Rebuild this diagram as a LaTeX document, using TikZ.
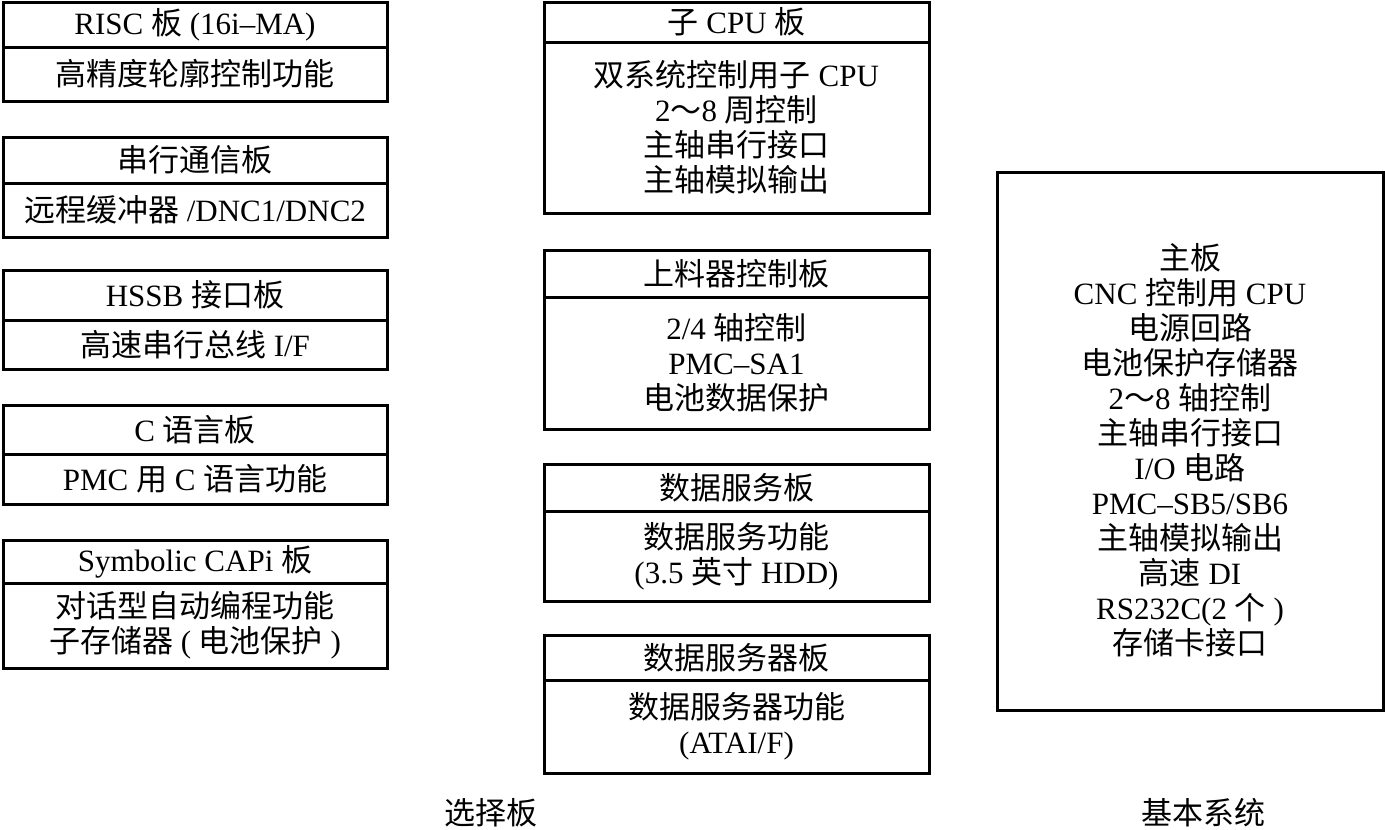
\documentclass[tikz,border=0pt]{standalone}
\usepackage{fontspec}
\setmainfont{Liberation Serif}
\newfontfamily\cjk{Noto Sans CJK SC}
\newcommand\zh[1]{{\cjk #1}}
\begin{document}
\begin{tikzpicture}[x=1pt,y=-1pt,
  cell/.style={draw, line width=3pt, inner sep=0pt, align=center,
    font=\fontsize{31}{35}\selectfont},
  lw/.style={cell, minimum width=384pt},
  mw/.style={cell, minimum width=385pt},
  lbl/.style={inner sep=0pt, align=center, font=\fontsize{31}{35}\selectfont}]
\useasboundingbox (0,0) rectangle (1385,830);
% left column
\node[lw, minimum height=45pt] (r1h) at (195,24.5) {RISC \zh{板} (16i–MA)};
\node[lw, minimum height=54pt] (r1b) at (195,74) {\zh{高精度轮廓控制功能}};
\node[lw, minimum height=46pt] (r2h) at (195,160) {\zh{串行通信板}};
\node[lw, minimum height=54pt] (r2b) at (195,210) {\zh{远程缓冲器} /DNC1/DNC2};
\node[lw, minimum height=50pt] (r3h) at (195,295) {HSSB \zh{接口板}};
\node[lw, minimum height=49pt] (r3b) at (195,344.5) {\zh{高速串行总线} I/F};
\node[lw, minimum height=49pt] (r4h) at (195,429.5) {C \zh{语言板}};
\node[lw, minimum height=50pt] (r4b) at (195,479) {PMC \zh{用} C \zh{语言功能}};
\node[lw, minimum height=43pt] (r5h) at (195,561.5) {Symbolic CAPi \zh{板}};
\node[lw, minimum height=85pt] (r5b) at (195,625.5) {\zh{对话型自动编程功能}\\\zh{子存储器} ( \zh{电池保护} )};
% middle column
\node[mw, minimum height=40pt] (m1h) at (736.5,22) {\zh{子} CPU \zh{板}};
\node[mw, minimum height=171pt] (m1b) at (736.5,127.5) {\zh{双系统控制用子} CPU\\2\zh{～}8 \zh{周控制}\\\zh{主轴串行接口}\\\zh{主轴模拟输出}};
\node[mw, minimum height=47pt] (m2h) at (736.5,273.5) {\zh{上料器控制板}};
\node[mw, minimum height=132pt] (m2b) at (736.5,363) {2/4 \zh{轴控制}\\PMC–SA1\\\zh{电池数据保护}};
\node[mw, minimum height=47pt] (m3h) at (736.5,487.5) {\zh{数据服务板}};
\node[mw, minimum height=90pt] (m3b) at (736.5,556) {\zh{数据服务功能}\\(3.5 \zh{英寸} HDD)};
\node[mw, minimum height=45pt] (m4h) at (736.5,657.5) {\zh{数据服务器板}};
\node[mw, minimum height=93pt] (m4b) at (736.5,726.5) {\zh{数据服务器功能}\\(ATAI/F)};
% right box
\node[cell, minimum width=386pt, minimum height=538pt] (main) at (1190,441) {};
\node[lbl] (maintext) at (1190,450)
  {\zh{主板}\\CNC \zh{控制用} CPU\\\zh{电源回路}\\\zh{电池保护存储器}\\2\zh{～}8 \zh{轴控制}\\\zh{主轴串行接口}\\I/O \zh{电路}\\PMC–SB5/SB6\\\zh{主轴模拟输出}\\\zh{高速} DI\\RS232C(2 \zh{个} )\\\zh{存储卡接口}};
% captions
\node[lbl] (cap1) at (491,813) {\zh{选择板}};
\node[lbl] (cap2) at (1203,813) {\zh{基本系统}};
\end{tikzpicture}
\end{document}
